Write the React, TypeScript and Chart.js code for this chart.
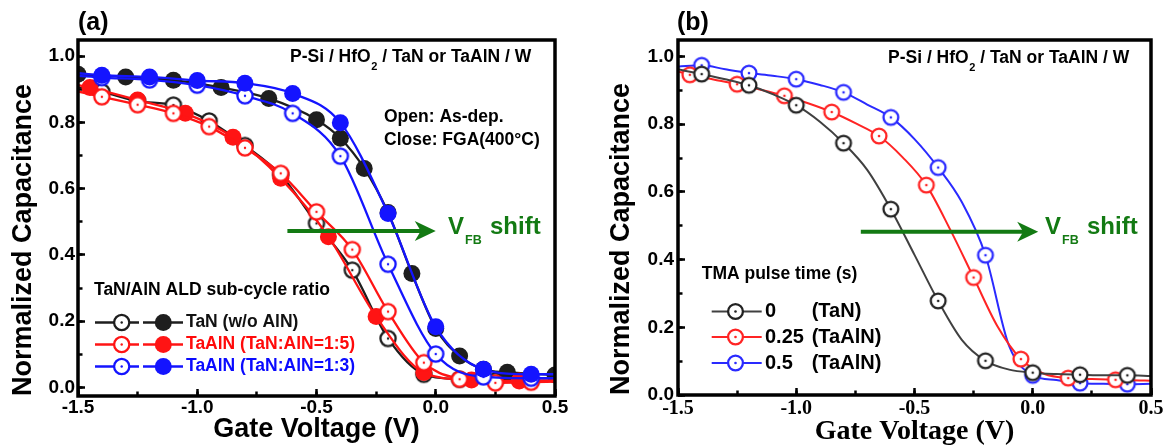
import React, { useEffect, useRef } from "react";
import { Chart, registerables } from "chart.js";

Chart.register(...registerables);

const SANS = "'Liberation Sans', Arial, Helvetica, sans-serif";
const SERIF = "'Liberation Serif', 'Times New Roman', Times, serif";

// ---------- axes ----------
const X_MIN = -1.5;
const X_MAX = 0.5;
const X_STEP = 0.5;
const X_MINOR_STEP = 0.25;
const Y_STEP = 0.2;
const Y_MINOR_STEP = 0.1;
const A_Y_MIN = -0.0256;
const A_Y_MAX = 1.0483;
const B_Y_MIN = 0;
const B_Y_MAX = 1.0487;

const X_TITLE = "Gate Voltage (V)";
const Y_TITLE = "Normalized Capacitance";
const STACK_PRE = "P-Si / HfO";
const STACK_SUB = "2";
const STACK_POST = " / TaN or TaAlN / W";
const SHIFT_V = "V";
const SHIFT_SUB = "FB";
const SHIFT_TXT = "shift";

// ---------- panel (a) ----------
const A_LABEL = "(a)";
const A_NOTES = ["Open: As-dep.", "Close: FGA(400°C)"];
const A_LEGEND_TITLE = "TaN/AlN ALD sub-cycle ratio";
const A_LEGEND_LABELS = ["TaN (w/o AlN)", "TaAlN (TaN:AlN=1:5)", "TaAlN (TaN:AlN=1:3)"];

// TaN, as-deposited (open)
const aTanOpenV = [-1.5, -1.4, -1.25, -1.1, -0.95, -0.8, -0.65, -0.5, -0.35, -0.2, -0.05, 0.1, 0.25, 0.4, 0.5];
const aTanOpenC = [0.905, 0.892, 0.864, 0.852, 0.804, 0.73, 0.641, 0.495, 0.354, 0.148, 0.04, 0.025, 0.02, 0.02, 0.02];
const aTanOpenSym = [0, 1, 1, 1, 1, 1, 1, 1, 1, 1, 1, 1, 1, 1, 0];
// TaN, FGA (filled)
const aTanFgaV = [-1.5, -1.3, -1.1, -0.9, -0.7, -0.5, -0.4, -0.3, -0.2, -0.1, 0.0, 0.1, 0.2, 0.3, 0.5];
const aTanFgaC = [0.945, 0.937, 0.927, 0.905, 0.872, 0.808, 0.752, 0.661, 0.528, 0.344, 0.178, 0.095, 0.055, 0.046, 0.038];
const aTanFgaSym = [1, 1, 1, 1, 1, 1, 1, 1, 1, 1, 1, 1, 1, 1, 1];
// TaAlN 1:5, as-deposited (open)
const aR15OpenV = [-1.5, -1.4, -1.25, -1.1, -0.95, -0.8, -0.65, -0.5, -0.35, -0.2, -0.05, 0.1, 0.25, 0.4, 0.5];
const aR15OpenC = [0.893, 0.877, 0.853, 0.827, 0.787, 0.723, 0.646, 0.53, 0.416, 0.229, 0.075, 0.025, 0.014, 0.016, 0.018];
const aR15OpenSym = [0, 1, 1, 1, 1, 1, 1, 1, 1, 1, 1, 1, 1, 1, 0];
// TaAlN 1:5, FGA (filled)
const aR15FgaV = [-1.5, -1.45, -1.25, -1.05, -0.85, -0.65, -0.45, -0.25, -0.05, 0.15, 0.35, 0.5];
const aR15FgaC = [0.912, 0.905, 0.867, 0.827, 0.755, 0.631, 0.455, 0.214, 0.045, 0.023, 0.02, 0.022];
const aR15FgaSym = [0, 1, 1, 1, 1, 1, 1, 1, 1, 1, 1, 0];
// TaAlN 1:3, as-deposited (open)
const aR13OpenV = [-1.5, -1.4, -1.2, -1.0, -0.8, -0.6, -0.4, -0.2, 0.0, 0.2, 0.4, 0.5];
const aR13OpenC = [0.94, 0.935, 0.928, 0.912, 0.88, 0.827, 0.698, 0.372, 0.101, 0.032, 0.028, 0.028];
const aR13OpenSym = [0, 1, 1, 1, 1, 1, 1, 1, 1, 1, 1, 0];
// TaAlN 1:3, FGA (filled)
const aR13FgaV = [-1.5, -1.4, -1.2, -1.0, -0.8, -0.6, -0.4, -0.2, 0.0, 0.2, 0.4, 0.5];
const aR13FgaC = [0.948, 0.942, 0.937, 0.926, 0.918, 0.887, 0.799, 0.525, 0.183, 0.055, 0.04, 0.04];
const aR13FgaSym = [0, 1, 1, 1, 1, 1, 1, 1, 1, 1, 1, 0];

// ---------- panel (b) ----------
const B_LABEL = "(b)";
const B_LEGEND_TITLE = "TMA pulse time (s)";
const B_LEGEND_TIMES = ["0", "0.25", "0.5"];
const B_LEGEND_NAMES = ["(TaN)", "(TaAlN)", "(TaAlN)"];

const bTanV = [-1.5, -1.4, -1.3, -1.2, -1.1, -1.0, -0.9, -0.8, -0.7, -0.6, -0.5, -0.4, -0.3, -0.2, -0.1, 0.0, 0.1, 0.2, 0.3, 0.4, 0.5];
const bTanC = [0.962, 0.948, 0.933, 0.915, 0.889, 0.856, 0.807, 0.744, 0.665, 0.549, 0.414, 0.278, 0.163, 0.101, 0.075, 0.066, 0.062, 0.06, 0.058, 0.058, 0.056];
const bTanSym = [0, 1, 0, 1, 0, 1, 0, 1, 0, 1, 0, 1, 0, 1, 0, 1, 0, 1, 0, 1, 0];

const bT025V = [-1.5, -1.45, -1.35, -1.25, -1.15, -1.05, -0.95, -0.85, -0.75, -0.65, -0.55, -0.45, -0.35, -0.25, -0.15, -0.05, 0.05, 0.15, 0.25, 0.35, 0.45, 0.5];
const bT025C = [0.956, 0.946, 0.932, 0.918, 0.902, 0.884, 0.862, 0.836, 0.803, 0.765, 0.702, 0.62, 0.49, 0.347, 0.204, 0.106, 0.062, 0.05, 0.047, 0.045, 0.043, 0.042];
const bT025Sym = [0, 1, 0, 1, 0, 1, 0, 1, 0, 1, 0, 1, 0, 1, 0, 1, 0, 1, 0, 1, 0, 0];

const bT05V = [-1.5, -1.4, -1.3, -1.2, -1.1, -1.0, -0.9, -0.8, -0.7, -0.6, -0.5, -0.4, -0.3, -0.2, -0.1, 0.0, 0.1, 0.2, 0.3, 0.4, 0.5];
const bT05C = [0.97, 0.974, 0.962, 0.951, 0.943, 0.933, 0.916, 0.894, 0.858, 0.82, 0.756, 0.672, 0.57, 0.413, 0.145, 0.058, 0.044, 0.035, 0.033, 0.032, 0.033];
const bT05Sym = [0, 1, 0, 1, 0, 1, 0, 1, 0, 1, 0, 1, 0, 1, 0, 1, 0, 1, 0, 1, 0];

// arrow positions in data space
const A_ARROW = { x1: -0.622, x2: 0.0, y: 0.472 };
const B_ARROW = { x1: -0.727, x2: 0.023, y: 0.482 };

// ---------- colours ----------
const BLACK = "#1e1e1e";
const RED = "#ff1414";
const BLUE = "#1414ff";
const GREEN = "#137a13";
const B_BLACK_LINE = "#404040";
const B_RED = "#ff2424";
const B_BLUE = "#2a2aff";

// ---------- helpers ----------
function pts(v: number[], c: number[]) {
  return v.map((x, i) => ({ x, y: c[i] }));
}

function ringCanvas(color: string, r: number, lw: number, dot: number) {
  const s = Math.ceil(r + lw) * 2 + 2;
  const cv = document.createElement("canvas");
  cv.width = s;
  cv.height = s;
  const g = cv.getContext("2d")!;
  g.beginPath();
  g.arc(s / 2, s / 2, r, 0, Math.PI * 2);
  g.fillStyle = "#ffffff";
  g.fill();
  g.lineWidth = lw;
  g.strokeStyle = color;
  g.stroke();
  g.beginPath();
  g.arc(s / 2, s / 2, dot, 0, Math.PI * 2);
  g.fillStyle = color;
  g.fill();
  return cv;
}

function openDs(label: string, v: number[], c: number[], sym: number[], lineColor: string, ring: HTMLCanvasElement, r: number, lw: number, order: number) {
  return {
    label,
    data: pts(v, c),
    borderColor: lineColor,
    backgroundColor: lineColor,
    borderWidth: lw,
    cubicInterpolationMode: "monotone",
    pointStyle: ring,
    pointRadius: (ctx: any) => (sym[ctx.dataIndex] ? r : 0),
    pointHoverRadius: (ctx: any) => (sym[ctx.dataIndex] ? r : 0),
    order,
    xAxisID: "x",
    yAxisID: "y",
  };
}

function filledDs(label: string, v: number[], c: number[], sym: number[], color: string, r: number, lw: number, order: number) {
  return {
    label,
    data: pts(v, c),
    borderColor: color,
    backgroundColor: color,
    borderWidth: lw,
    cubicInterpolationMode: "monotone",
    pointStyle: "circle",
    pointBackgroundColor: color,
    pointBorderColor: color,
    pointBorderWidth: 0,
    pointRadius: (ctx: any) => (sym[ctx.dataIndex] ? r : 0),
    pointHoverRadius: (ctx: any) => (sym[ctx.dataIndex] ? r : 0),
    order,
    xAxisID: "x",
    yAxisID: "y",
  };
}

function txt(ctx: CanvasRenderingContext2D, s: string, x: number, y: number, size: number, color = "#000", family = SANS) {
  ctx.font = `bold ${size}px ${family}`;
  ctx.fillStyle = color;
  ctx.textAlign = "left";
  ctx.textBaseline = "middle";
  ctx.fillText(s, x, y);
  return ctx.measureText(s).width;
}

function drawStack(ctx: CanvasRenderingContext2D, x: number, y: number) {
  let cx = x;
  cx += txt(ctx, STACK_PRE, cx, y, 17.5);
  cx += txt(ctx, STACK_SUB, cx + 0.5, y + 9.5, 11) + 0.5;
  txt(ctx, STACK_POST, cx, y, 17.5);
}

function drawShift(ctx: CanvasRenderingContext2D, x: number, y: number) {
  const w = txt(ctx, SHIFT_V, x, y, 24, GREEN);
  txt(ctx, SHIFT_SUB, x + w + 1, y + 13.5, 12.5, GREEN);
  txt(ctx, SHIFT_TXT, x + 42, y, 24, GREEN);
}

function drawArrow(ctx: CanvasRenderingContext2D, x1: number, x2: number, y: number) {
  ctx.strokeStyle = GREEN;
  ctx.fillStyle = GREEN;
  ctx.lineWidth = 4;
  ctx.beginPath();
  ctx.moveTo(x1, y);
  ctx.lineTo(x2 - 14, y);
  ctx.stroke();
  ctx.beginPath();
  ctx.moveTo(x2, y);
  ctx.lineTo(x2 - 21, y - 10);
  ctx.lineTo(x2 - 15, y);
  ctx.lineTo(x2 - 21, y + 10);
  ctx.closePath();
  ctx.fill();
}

function drawFrame(ctx: CanvasRenderingContext2D, a: any) {
  ctx.strokeStyle = "#000";
  ctx.lineWidth = 3.5;
  ctx.strokeRect(a.left, a.top, a.right - a.left, a.bottom - a.top);
}

function ringAt(ctx: CanvasRenderingContext2D, x: number, y: number, r: number, lw: number, color: string, dot: number) {
  ctx.beginPath();
  ctx.arc(x, y, r, 0, Math.PI * 2);
  ctx.fillStyle = "#fff";
  ctx.fill();
  ctx.lineWidth = lw;
  ctx.strokeStyle = color;
  ctx.stroke();
  ctx.beginPath();
  ctx.arc(x, y, dot, 0, Math.PI * 2);
  ctx.fillStyle = color;
  ctx.fill();
}

function discAt(ctx: CanvasRenderingContext2D, x: number, y: number, r: number, color: string) {
  ctx.beginPath();
  ctx.arc(x, y, r, 0, Math.PI * 2);
  ctx.fillStyle = color;
  ctx.fill();
}

function hline(ctx: CanvasRenderingContext2D, x1: number, x2: number, y: number, color: string, lw: number) {
  ctx.strokeStyle = color;
  ctx.lineWidth = lw;
  ctx.beginPath();
  ctx.moveTo(x1, y);
  ctx.lineTo(x2, y);
  ctx.stroke();
}

function scales(o: any) {
  const tickGrid = (len: number) => ({
    display: true,
    drawOnChartArea: false,
    drawTicks: true,
    tickLength: len,
    tickWidth: 2.5,
    tickColor: "#000",
  });
  return {
    x: {
      type: "linear",
      position: "bottom",
      weight: 1,
      min: X_MIN,
      max: X_MAX,
      ticks: {
        stepSize: X_STEP,
        autoSkip: false,
        includeBounds: false,
        maxRotation: 0,
        minRotation: 0,
        padding: o.xTickPad,
        color: "#000",
        font: { family: o.xFamily, size: o.xTickSize, weight: "bold" },
        callback: (v: any) => Number(v).toFixed(1),
      },
      grid: tickGrid(-7),
      border: { display: false },
      title: {
        display: true,
        text: X_TITLE,
        color: "#000",
        font: { family: o.xFamily, size: o.xTitleSize, weight: "bold", lineHeight: o.xTitleLH },
        padding: { top: 0, bottom: o.xTitlePad },
      },
      afterFit: (s: any) => {
        s.height = o.xH;
      },
    },
    xm: {
      type: "linear",
      position: "bottom",
      weight: 0,
      min: X_MIN,
      max: X_MAX,
      ticks: { display: false, stepSize: X_MINOR_STEP, includeBounds: false },
      grid: tickGrid(-4.5),
      border: { display: false },
      afterFit: (s: any) => {
        s.height = 0;
      },
    },
    y: {
      type: "linear",
      position: "left",
      weight: 1,
      min: o.yMin,
      max: o.yMax,
      ticks: {
        stepSize: Y_STEP,
        autoSkip: false,
        includeBounds: false,
        padding: o.yTickPad,
        color: "#000",
        font: { family: SANS, size: 19, weight: "bold" },
        callback: (v: any) => Number(v).toFixed(1),
      },
      grid: tickGrid(-7),
      border: { display: false },
      title: {
        display: true,
        text: Y_TITLE,
        align: "start",
        color: "#000",
        font: { family: SANS, size: 27, weight: "bold", lineHeight: 1.2 },
        padding: { top: o.yTitlePad, bottom: 0 },
      },
      afterFit: (s: any) => {
        s.width = o.yW;
      },
    },
    ym: {
      type: "linear",
      position: "left",
      weight: 0,
      min: o.yMin,
      max: o.yMax,
      ticks: { display: false, stepSize: Y_MINOR_STEP, includeBounds: false },
      grid: tickGrid(-4.5),
      border: { display: false },
      afterFit: (s: any) => {
        s.width = 0;
      },
    },
  };
}

// ---------- panel configs ----------
function configA() {
  const ringK = ringCanvas(BLACK, 7.6, 2.3, 1.2);
  const ringR = ringCanvas(RED, 7.6, 2.3, 1.2);
  const ringB = ringCanvas(BLUE, 7.6, 2.3, 1.2);
  const datasets = [
    filledDs(A_LEGEND_LABELS[2] + " FGA", aR13FgaV, aR13FgaC, aR13FgaSym, BLUE, 8.5, 2.3, 1),
    openDs(A_LEGEND_LABELS[2] + " as-dep.", aR13OpenV, aR13OpenC, aR13OpenSym, BLUE, ringB, 7.6, 2.3, 2),
    openDs(A_LEGEND_LABELS[1] + " as-dep.", aR15OpenV, aR15OpenC, aR15OpenSym, RED, ringR, 7.6, 2.3, 3),
    filledDs(A_LEGEND_LABELS[1] + " FGA", aR15FgaV, aR15FgaC, aR15FgaSym, RED, 8.5, 2.3, 4),
    filledDs(A_LEGEND_LABELS[0] + " FGA", aTanFgaV, aTanFgaC, aTanFgaSym, BLACK, 8.5, 2.3, 5),
    openDs(A_LEGEND_LABELS[0] + " as-dep.", aTanOpenV, aTanOpenC, aTanOpenSym, BLACK, ringK, 7.6, 2.3, 6),
  ];
  const plugin = {
    id: "panelA",
    afterDraw(chart: any) {
      const ctx = chart.ctx as CanvasRenderingContext2D;
      const a = chart.chartArea;
      const sx = chart.scales.x;
      const sy = chart.scales.y;
      ctx.save();
      drawFrame(ctx, a);
      txt(ctx, A_LABEL, 78, 23, 25);
      drawStack(ctx, 290, 57);
      txt(ctx, A_NOTES[0], 384, 117, 17.5);
      txt(ctx, A_NOTES[1], 384, 140, 17.5);
      drawArrow(ctx, sx.getPixelForValue(A_ARROW.x1), sx.getPixelForValue(A_ARROW.x2), sy.getPixelForValue(A_ARROW.y));
      drawShift(ctx, 448, 227);
      txt(ctx, A_LEGEND_TITLE, 94, 290, 17.5);
      const rows = [322.5, 344.5, 366.5];
      const cols = [BLACK, RED, BLUE];
      const textCols = ["#111", "#ff0a0a", "#0a0aff"];
      rows.forEach((y, i) => {
        hline(ctx, 95, 139, y, cols[i], 2.5);
        hline(ctx, 143, 183, y, cols[i], 2.5);
        ringAt(ctx, 121.7, y, 7.6, 2.3, cols[i], 1.2);
        discAt(ctx, 163.3, y, 8.5, cols[i]);
        txt(ctx, A_LEGEND_LABELS[i], 186, y, 17.5, textCols[i]);
      });
      ctx.restore();
    },
  };
  return {
    type: "line",
    data: { datasets },
    options: {
      responsive: false,
      animation: false,
      events: [],
      layout: { padding: { left: 0, right: 32, top: 40, bottom: 0 } },
      plugins: { legend: { display: false }, tooltip: { enabled: false } },
      scales: scales({
        xFamily: SANS,
        xTickSize: 19,
        xTickPad: 7,
        xTitleSize: 27,
        xTitleLH: 1.2,
        xTitlePad: 1,
        xH: 51,
        yMin: A_Y_MIN,
        yMax: A_Y_MAX,
        yTickPad: 10,
        yTitlePad: 7,
        yW: 78,
      }),
    },
    plugins: [plugin],
  };
}

function configB() {
  const ringK = ringCanvas("#222", 7.4, 2.3, 1.3);
  const ringR = ringCanvas(B_RED, 7.4, 2.3, 1.3);
  const ringB = ringCanvas(B_BLUE, 7.4, 2.3, 1.3);
  const datasets = [
    openDs(B_LEGEND_TIMES[0] + " " + B_LEGEND_NAMES[0], bTanV, bTanC, bTanSym, B_BLACK_LINE, ringK, 7.4, 2, 1),
    openDs(B_LEGEND_TIMES[1] + " " + B_LEGEND_NAMES[1], bT025V, bT025C, bT025Sym, B_RED, ringR, 7.4, 2, 2),
    openDs(B_LEGEND_TIMES[2] + " " + B_LEGEND_NAMES[2], bT05V, bT05C, bT05Sym, B_BLUE, ringB, 7.4, 2, 3),
  ];
  const plugin = {
    id: "panelB",
    afterDraw(chart: any) {
      const ctx = chart.ctx as CanvasRenderingContext2D;
      const a = chart.chartArea;
      const sx = chart.scales.x;
      const sy = chart.scales.y;
      ctx.save();
      drawFrame(ctx, a);
      txt(ctx, B_LABEL, 90, 23, 25);
      drawStack(ctx, 301, 58);
      drawArrow(ctx, sx.getPixelForValue(B_ARROW.x1), sx.getPixelForValue(B_ARROW.x2), sy.getPixelForValue(B_ARROW.y));
      drawShift(ctx, 458, 227);
      txt(ctx, B_LEGEND_TITLE, 114.7, 274, 17.5);
      const rows = [311.5, 337, 363];
      const lineCols = [B_BLACK_LINE, B_RED, B_BLUE];
      const ringCols = ["#222", B_RED, B_BLUE];
      rows.forEach((y, i) => {
        hline(ctx, 124.7, 174.7, y, lineCols[i], 2);
        ringAt(ctx, 148.5, y, 7.4, 2.3, ringCols[i], 1.3);
        txt(ctx, B_LEGEND_TIMES[i], 178, y, 20);
        txt(ctx, B_LEGEND_NAMES[i], 224.7, y, 20);
      });
      ctx.restore();
    },
  };
  return {
    type: "line",
    data: { datasets },
    options: {
      responsive: false,
      animation: false,
      events: [],
      layout: { padding: { left: 0, right: 23, top: 40, bottom: 0 } },
      plugins: { legend: { display: false }, tooltip: { enabled: false } },
      scales: scales({
        xFamily: SERIF,
        xTickSize: 20,
        xTickPad: 9,
        xTitleSize: 28,
        xTitleLH: 1.1,
        xTitlePad: 0,
        xH: 52,
        yMin: B_Y_MIN,
        yMax: B_Y_MAX,
        yTickPad: 11,
        yTitlePad: 18,
        yW: 91,
      }),
    },
    plugins: [plugin],
  };
}

function Panel({ left, width, make }: { left: number; width: number; make: () => any }) {
  const ref = useRef<HTMLCanvasElement>(null);
  useEffect(() => {
    const chart = new Chart(ref.current as HTMLCanvasElement, make());
    return () => chart.destroy();
  }, []);
  return (
    <canvas
      ref={ref}
      width={width}
      height={447}
      style={{ position: "absolute", left, top: 0, width, height: 447 }}
    />
  );
}

export default function App() {
  return (
    <div style={{ position: "absolute", left: 0, top: 0, width: 1174, height: 447, background: "#ffffff", overflow: "hidden" }}>
      <Panel left={0} width={587} make={configA} />
      <Panel left={587} width={587} make={configB} />
    </div>
  );
}
